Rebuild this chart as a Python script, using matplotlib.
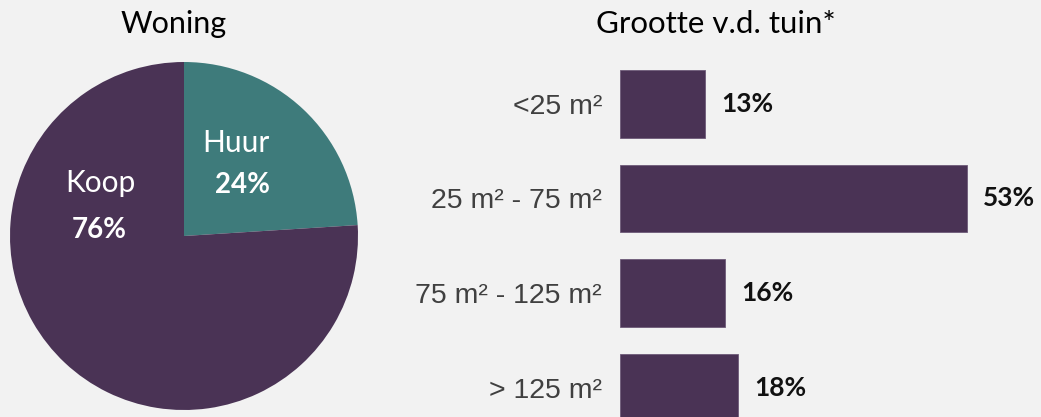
import matplotlib.pyplot as plt

# data
woning_labels = ['Huur', 'Koop']
woning_values = [24, 76]
tuin_labels = ['<25 m²', '25 m² - 75 m²', '75 m² - 125 m²', '> 125 m²']
tuin_values = [13, 53, 16, 18]

purple = '#4a3355'
teal = '#3e7b7b'
bg = '#f2f2f2'
title_font = 'Lato'

fig = plt.figure(figsize=(10.41, 4.17), dpi=100, facecolor=bg)

# pie: Woning
W, H = 1041, 417
ax1 = fig.add_axes([10 / W, 7 / H, 348 / W, 348 / H])
ax1.set_facecolor(bg)
ax1.pie(woning_values, colors=[teal, purple], startangle=90, counterclock=False,
        radius=1, wedgeprops=dict(linewidth=0))
ax1.set_xlim(-1, 1)
ax1.set_ylim(-1, 1)
ax1.set_aspect('equal')
ax1.axis('off')

# slice labels
ax1.text(0.299, 0.483, woning_labels[0], color='white', fontsize=21.5, family=title_font,
         ha='center', va='baseline')
ax1.text(0.339, 0.247, f'{woning_values[0]}%', color='white', fontsize=20, family=title_font,
         fontweight='bold', ha='center', va='baseline')
ax1.text(-0.483, 0.253, woning_labels[1], color='white', fontsize=21.5, family=title_font,
         ha='center', va='baseline')
ax1.text(-0.486, -0.011, f'{woning_values[1]}%', color='white', fontsize=20, family=title_font,
         fontweight='bold', ha='center', va='baseline')

fig.text(174 / W, 1 - 33 / H, 'Woning', fontsize=22, family=title_font,
         ha='center', va='baseline', color='black')

# bars: grootte v.d. tuin
ax2 = fig.add_axes([620 / W, 0, 393 / W, 1])
ax2.set_facecolor('none')
ypos = list(range(len(tuin_values)))
ax2.barh(ypos, tuin_values, height=0.71, color=purple, edgecolor='#6e5a78', linewidth=0.6)
ax2.set_xlim(0, 60)
ax2.set_ylim(3.312, -1.10)
ax2.set_yticks(ypos)
ax2.set_yticklabels(tuin_labels, fontsize=20.5, family='Liberation Sans', color='#404040')
ax2.tick_params(axis='y', length=0, pad=13)
ax2.set_xticks([])
for s in ax2.spines.values():
    s.set_visible(False)

for y, v in zip(ypos, tuin_values):
    ax2.annotate(f'{v}%', (v, y), xytext=(11.5, 0), textcoords='offset points',
                 ha='left', va='center', fontsize=19, family=title_font,
                 fontweight='bold', color='#111111')

fig.text(716 / W, 1 - 33 / H, 'Grootte v.d. tuin*', fontsize=22.5, family=title_font,
         ha='center', va='baseline', color='black')

fig.savefig('out.png', dpi=100, facecolor=bg)
